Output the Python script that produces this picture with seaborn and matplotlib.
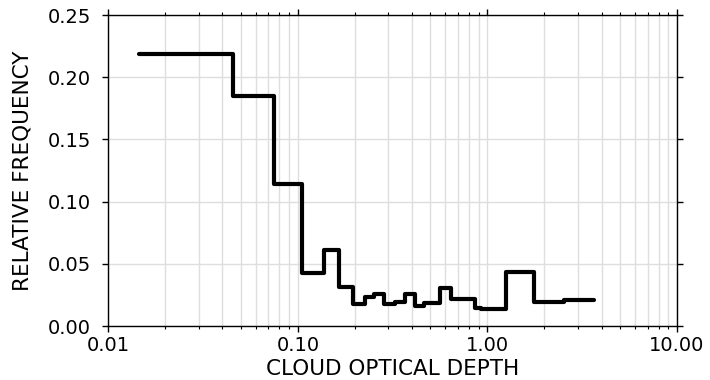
import matplotlib
matplotlib.use("Agg")
import matplotlib.pyplot as plt
import matplotlib.ticker as mticker
import seaborn as sns
import pandas as pd

# Bin edges (cloud optical depth) and relative frequency per bin
bin_edges = [0.0146, 0.0454, 0.0750, 0.1048, 0.1367, 0.1651, 0.1945, 0.2251,
             0.2518, 0.2861, 0.3269, 0.3694, 0.4171, 0.4613, 0.5605, 0.6462,
             0.8579, 0.9196, 1.246, 1.758, 2.533, 3.657]
rel_freq = [0.219, 0.185, 0.114, 0.043, 0.061, 0.031, 0.018, 0.023, 0.026,
            0.018, 0.0195, 0.0255, 0.0163, 0.0182, 0.0303, 0.0215, 0.0142,
            0.0134, 0.0432, 0.0195, 0.0209]
x_ticks = [0.01, 0.1, 1.0, 10.0]
x_tick_labels = ["0.01", "0.10", "1.00", "10.00"]
y_ticks = [0.00, 0.05, 0.10, 0.15, 0.20, 0.25]
y_tick_labels = ["0.00", "0.05", "0.10", "0.15", "0.20", "0.25"]

sns.set_style("ticks")
plt.rcParams["font.family"] = ["DejaVu Sans"]
plt.rcParams["text.color"] = "black"
plt.rcParams["axes.labelcolor"] = "black"
plt.rcParams["xtick.color"] = "black"
plt.rcParams["ytick.color"] = "black"

df = pd.DataFrame({"depth": bin_edges, "freq": rel_freq + [rel_freq[-1]]})

fig = plt.figure(figsize=(7.1, 3.8), dpi=100)
ax = fig.add_axes([0.1525, 0.142, 0.801, 0.8185])

sns.lineplot(data=df, x="depth", y="freq", drawstyle="steps-post",
             color="black", linewidth=3.0, ax=ax, sort=False,
             estimator=None, zorder=3)

ax.set_xscale("log")
ax.set_xlim(0.01, 10.0)
ax.set_ylim(0.0, 0.25)
ax.xaxis.set_major_locator(mticker.FixedLocator(x_ticks))
ax.set_xticklabels(x_tick_labels)
ax.xaxis.set_minor_locator(mticker.LogLocator(base=10, subs=range(2, 10)))
ax.xaxis.set_minor_formatter(mticker.NullFormatter())
ax.set_yticks(y_ticks)
ax.set_yticklabels(y_tick_labels)

ax.grid(True, which="major", axis="both", color="#dedede", linewidth=1.0)
ax.grid(True, which="minor", axis="x", color="#dedede", linewidth=1.0)
ax.set_axisbelow(True)

for s in ax.spines.values():
    s.set_visible(True)
    s.set_color("black")
    s.set_linewidth(1.0)

ax.tick_params(axis="both", which="major", direction="out", length=4.5,
               width=1, labelsize=14, color="black", labelcolor="black",
               top=True, right=True, bottom=True, left=True)
ax.tick_params(axis="y", which="major", pad=8)
ax.tick_params(axis="x", which="major", pad=3)
ax.tick_params(axis="x", which="minor", direction="out", length=2.5,
               width=0.8, top=True, bottom=True)

ax.set_xlabel("CLOUD OPTICAL DEPTH", fontsize=15.5, labelpad=2.5)
ax.set_ylabel("RELATIVE FREQUENCY", fontsize=15.5, labelpad=11)

fig.savefig("out.png", dpi=100)
